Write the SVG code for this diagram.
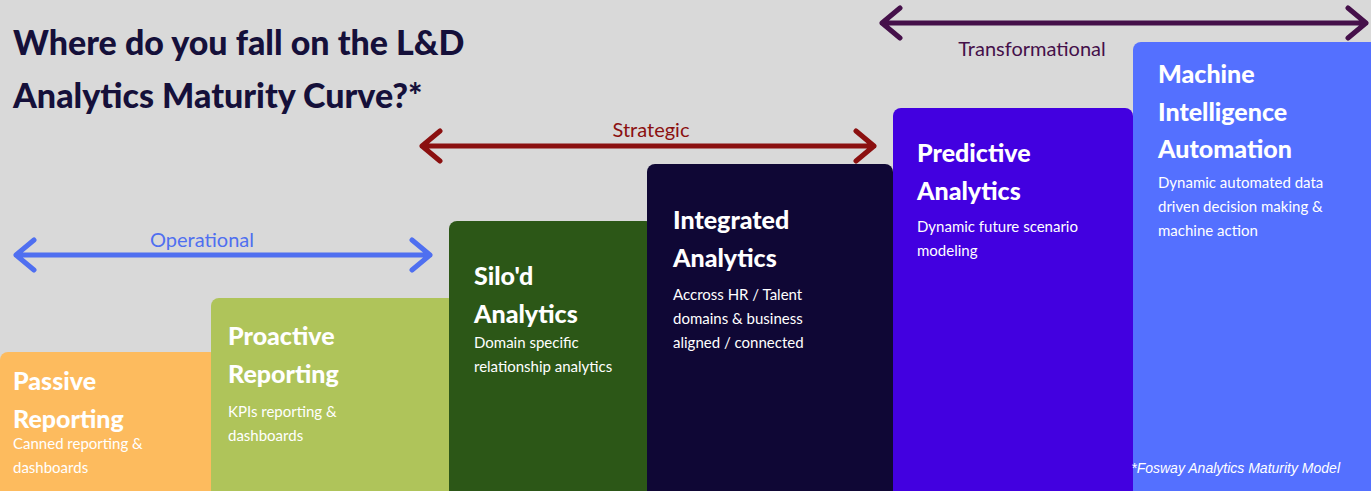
<svg xmlns="http://www.w3.org/2000/svg" width="1371" height="491" viewBox="0 0 1371 491">
<style>
.t{font-family:Lato,"Liberation Sans",sans-serif;font-weight:900;font-size:25px;fill:#fff}
.d{font-family:Lato,"Liberation Sans",sans-serif;font-size:15px;fill:#fff}
.h{font-family:Lato,"Liberation Sans",sans-serif;font-weight:900;font-size:34px;fill:#15103A}
.l{font-family:Lato,"Liberation Sans",sans-serif;font-size:20px}
.a{fill:none;stroke-width:5;stroke-linecap:round;stroke-linejoin:round}
</style>
<rect width="1371" height="491" fill="#D9D9D9"/>
<g id="title"><text class="h" x="13" y="55">Where do you fall on the L&amp;D</text><text class="h" x="13" y="108">Analytics Maturity Curve?*</text></g>
<g id="passive"><rect x="0" y="352" width="218" height="150" rx="8" fill="#FDBB5E"/>
<text class="t" x="13" y="390">Passive</text><text class="t" x="13" y="428">Reporting</text>
<text class="d" x="13" y="449">Canned reporting &amp;</text><text class="d" x="13" y="473">dashboards</text></g>
<g id="proactive"><rect x="211" y="298" width="245" height="200" rx="8" fill="#AFC45A"/>
<text class="t" x="228" y="345">Proactive</text><text class="t" x="228" y="383">Reporting</text>
<text class="d" x="228" y="417">KPIs reporting &amp;</text><text class="d" x="228" y="441">dashboards</text></g>
<g id="silod"><rect x="449" y="221" width="205" height="280" rx="8" fill="#2C5717"/>
<text class="t" x="474" y="285">Silo'd</text><text class="t" x="474" y="323">Analytics</text>
<text class="d" x="474" y="348">Domain specific</text><text class="d" x="474" y="372">relationship analytics</text></g>
<g id="integrated"><rect x="647" y="164" width="246" height="340" rx="8" fill="#0F0735"/>
<text class="t" x="673" y="229">Integrated</text><text class="t" x="673" y="267">Analytics</text>
<text class="d" x="673" y="300">Accross HR / Talent</text><text class="d" x="673" y="324">domains &amp; business</text><text class="d" x="673" y="348">aligned / connected</text></g>
<g id="predictive"><rect x="893" y="108" width="240" height="400" rx="8" fill="#4200E0"/>
<text class="t" x="917" y="162">Predictive</text><text class="t" x="917" y="200">Analytics</text>
<text class="d" x="917" y="232">Dynamic future scenario</text><text class="d" x="917" y="256">modeling</text></g>
<g id="machine"><rect x="1133" y="42" width="250" height="460" rx="8" fill="#5470FF"/>
<text class="t" x="1158" y="83">Machine</text><text class="t" x="1158" y="121">Intelligence</text><text class="t" x="1158" y="158">Automation</text>
<text class="d" x="1158" y="188">Dynamic automated data</text><text class="d" x="1158" y="212">driven decision making &amp;</text><text class="d" x="1158" y="236">machine action</text>
<text x="1340" y="473" text-anchor="end" style="font-family:'Liberation Sans',sans-serif;font-style:italic;font-size:14px;fill:#fff">*Fosway Analytics Maturity Model</text></g>
<g id="connectors">
<g stroke="#4F6FF0" class="a"><path d="M16 255H430M34 240L16 255L34 270M412 240L430 255L412 270"/></g>
<text class="l" x="202" y="247" text-anchor="middle" fill="#4F6FF0">Operational</text>
<g stroke="#8B1010" class="a"><path d="M422 146H874M440 131L422 146L440 161M856 131L874 146L856 161"/></g>
<text class="l" x="651" y="137" text-anchor="middle" fill="#8B1010">Strategic</text>
<g stroke="#45104A" class="a"><path d="M882 23H1366M900 8L882 23L900 38M1348 8L1366 23L1348 38"/></g>
<text class="l" x="1032" y="56" text-anchor="middle" fill="#45104A">Transformational</text>
</g>
</svg>
